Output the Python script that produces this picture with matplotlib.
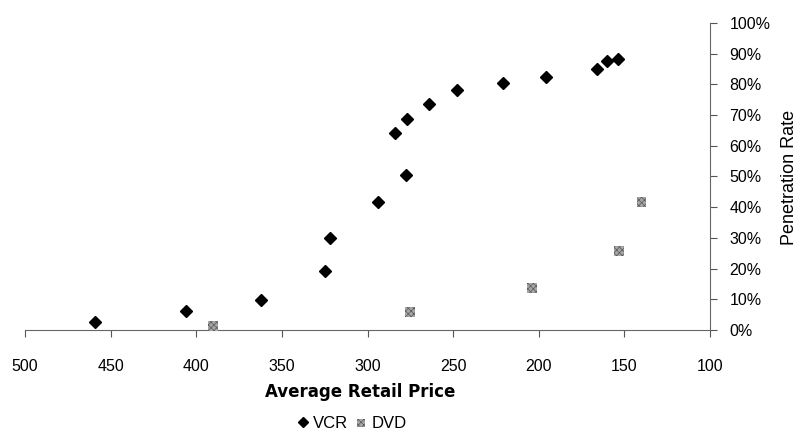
import matplotlib
matplotlib.use("Agg")
import matplotlib.pyplot as plt
from matplotlib.ticker import PercentFormatter, MultipleLocator

plt.rcParams["font.family"] = ["Liberation Sans", "DejaVu Sans"]
plt.rcParams["hatch.linewidth"] = 0.5

# average retail price ($) vs. household penetration
vcr_price = [459, 406, 362, 325, 322, 294, 284, 277.5, 277, 264, 248, 221, 196, 166, 160, 154]
vcr_rate = [0.026, 0.062, 0.098, 0.192, 0.300, 0.417, 0.642, 0.505, 0.687, 0.736, 0.782,
            0.805, 0.824, 0.850, 0.876, 0.883]
dvd_price = [390, 275, 204, 153, 140]
dvd_rate = [0.013, 0.059, 0.137, 0.257, 0.417]

x_ticks = [500, 450, 400, 350, 300, 250, 200, 150, 100]

fig = plt.figure(figsize=(8.03, 4.36), dpi=100)
ax = fig.add_axes([25 / 803, 1 - 330 / 436, 685 / 803, 307 / 436])

vcr, = ax.plot(vcr_price, vcr_rate, ls="none", marker="D", ms=6.5,
               mfc="black", mec="black", label="VCR", clip_on=False)
# speckled grey squares for DVD
dvd = ax.scatter(dvd_price, dvd_rate, marker="s", s=50, facecolor="#a6a6a6",
                 edgecolor="#5a5a5a", linewidth=0, hatch="xxxxxx", label="DVD",
                 clip_on=False, zorder=3)

ax.set_xlim(500, 100)
ax.set_ylim(0, 1)
ax.set_xticks(x_ticks)
ax.yaxis.set_major_locator(MultipleLocator(0.1))
ax.yaxis.set_major_formatter(PercentFormatter(1.0, decimals=0))
ax.yaxis.tick_right()

for side in ("top", "left"):
    ax.spines[side].set_visible(False)
for side in ("bottom", "right"):
    ax.spines[side].set_color("#666666")
    ax.spines[side].set_linewidth(0.8)

ax.tick_params(axis="x", direction="out", length=5, width=0.8, color="#555555",
               pad=16, labelsize=11.5)
ax.tick_params(axis="y", direction="out", length=5, width=0.8, color="#555555",
               pad=9, labelsize=11.5)

fig.text(360 / 803, 1 - 392 / 436, "Average Retail Price", ha="center", va="center",
         fontsize=12, fontweight="bold", family="DejaVu Sans")
fig.text(790 / 803, 1 - 177 / 436, "Penetration Rate", ha="center", va="center",
         rotation=90, fontsize=13)

fig.legend(handles=[vcr, dvd], loc="center", bbox_to_anchor=(352 / 803, 1 - 423 / 436),
           ncol=2, frameon=False, fontsize=12, handlelength=0.6, handletextpad=0.3,
           columnspacing=0.5, markerscale=0.8)

fig.savefig("out.png", dpi=100)
